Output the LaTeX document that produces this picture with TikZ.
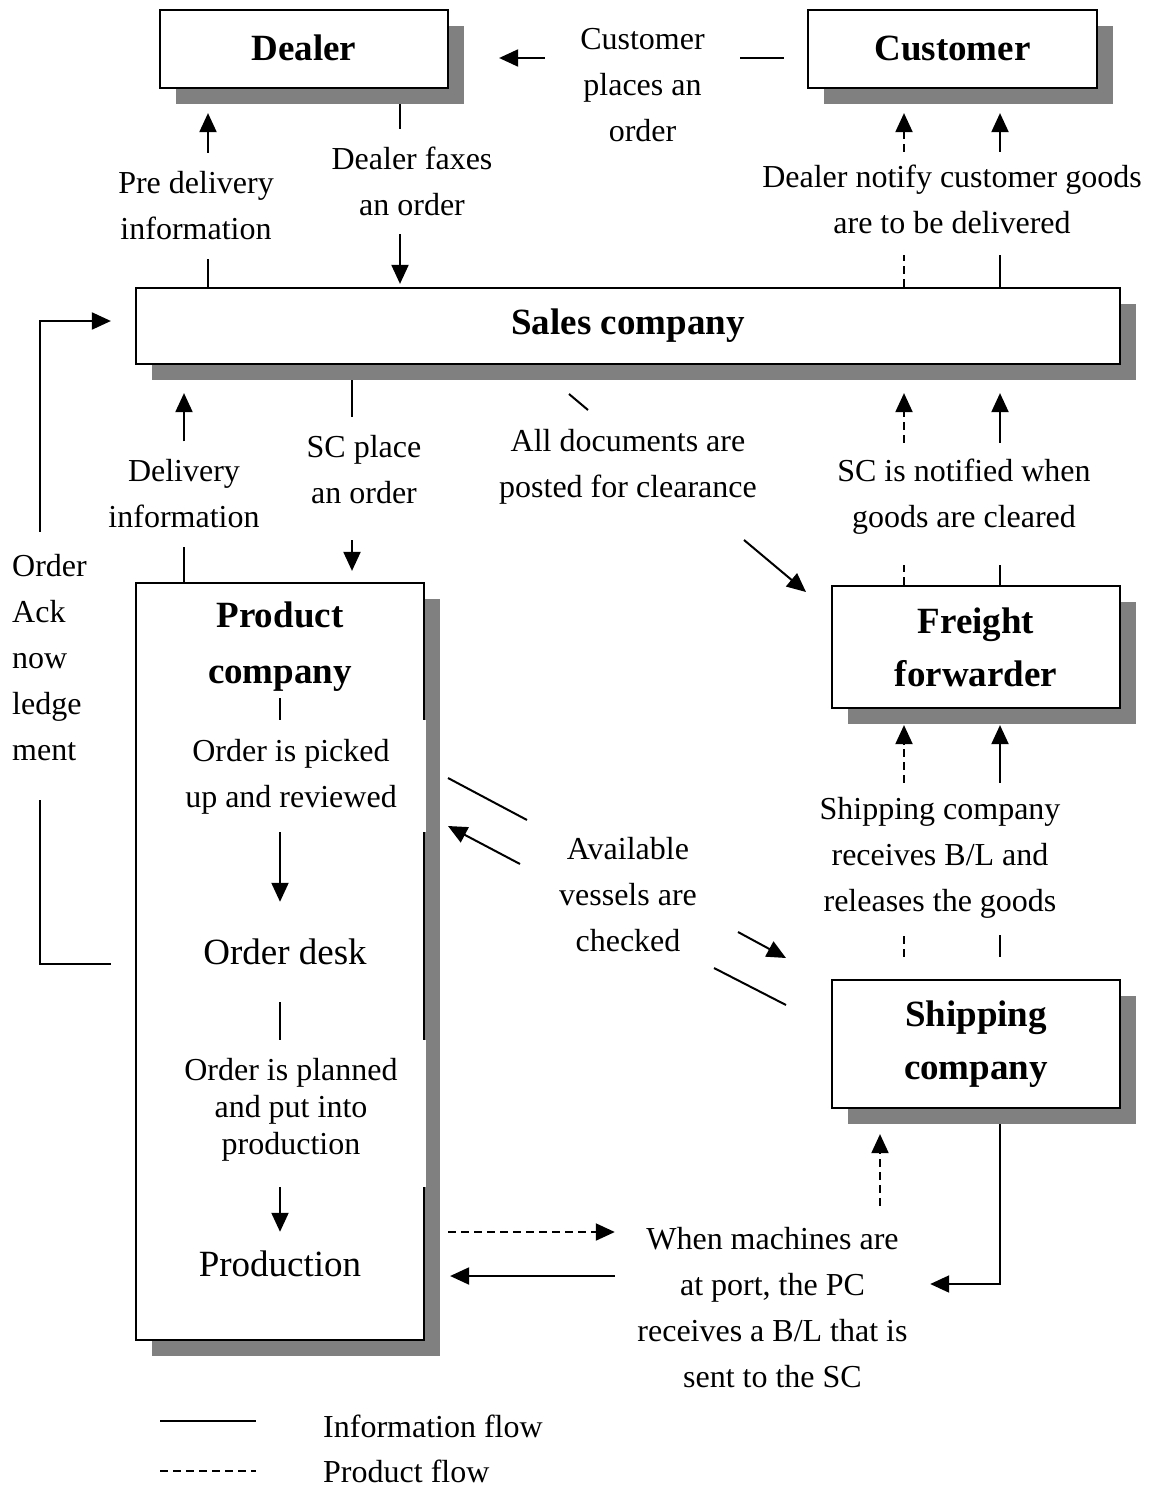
\documentclass[tikz,border=0pt]{standalone}
\usepackage{fontspec}
\setmainfont{Liberation Serif}
\usetikzlibrary{arrows.meta,shadows}
\pgfdeclarelayer{back}
\pgfsetlayers{back,main}
\definecolor{shade}{RGB}{128,128,128}
\tikzset{
  flow/.style={line width=2pt},
  infoline/.style={flow},
  prodline/.style={flow, dash pattern=on 8pt off 5pt},
  arr/.style={-{Triangle[length=19pt,width=17pt]}},
  box/.style={draw, line width=2.2pt, fill=white, inner sep=0pt, align=center,
    font=\fontsize{37}{53}\selectfont\bfseries,
    drop shadow={shadow xshift=16pt, shadow yshift=-16pt, fill=shade, opacity=1}},
  lab/.style={inner sep=0pt, align=center, font=\fontsize{32}{46}\selectfont},
  blab/.style={inner sep=0pt, align=center, font=\fontsize{37}{56}\selectfont\bfseries},
  patch/.style={fill=white, inner sep=0pt},
}
\begin{document}
\begin{tikzpicture}[x=1pt,y=-1pt]
\begin{pgfonlayer}{back}
  \fill[white] (0,0) rectangle (1149,1488);
\end{pgfonlayer}
\useasboundingbox (0,0) rectangle (1149,1488);

% reference lines for connector positions
\coordinate (yTop) at (0,58);
\coordinate (xFax) at (400,0);
\coordinate (xPre) at (208,0);
\coordinate (xDash) at (904,0);
\coordinate (xSolid) at (1000,0);
\coordinate (xDel) at (184,0);
\coordinate (xSCp) at (352,0);
\coordinate (xPc) at (280,0);
\coordinate (xAck) at (40,0);
\coordinate (yAckLow) at (0,964);
\coordinate (yAckHigh) at (0,321);
\coordinate (xPort) at (880,0);
\coordinate (yOut) at (0,1232);
\coordinate (yIn) at (0,1276);
\coordinate (yBL) at (0,1284);

% diagonal connector ends
\coordinate (docA) at (569,394);
\coordinate (docB) at (588,410);
\coordinate (docC) at (744,540);
\coordinate (docD) at (806,592);
\coordinate (vesA) at (448,778);
\coordinate (vesB) at (527,820);
\coordinate (vesC) at (738,932);
\coordinate (vesD) at (786,958);
\coordinate (vesE) at (786,1005);
\coordinate (vesF) at (714,968);
\coordinate (vesG) at (520,864);
\coordinate (vesH) at (448,826);

% legend samples
\coordinate (legA) at (160,1421);
\coordinate (legB) at (256,1421);
\coordinate (legC) at (160,1471);
\coordinate (legD) at (256,1471);

% parties
\node[box, minimum width=288pt, minimum height=78pt] (dealer) at (304,49) {\raisebox{2pt}{Dealer}};
\node[box, minimum width=289pt, minimum height=78pt] (cust) at (952.5,49) {\raisebox{2pt}{Customer}};
\node[box, minimum width=984pt, minimum height=76pt] (sales) at (628,326) {Sales company};
\node[box, minimum width=288pt, minimum height=757pt] (pc) at (280,961.5) {};
\node[box, minimum width=288pt, minimum height=122pt] (ff) at (976,647) {Freight\\forwarder};
\node[box, minimum width=288pt, minimum height=128pt] (sc) at (976,1044) {Shipping\\company};

% flow labels
\node[lab, minimum width=195pt, minimum height=130pt] (cpo) at (642.5,85) {Customer\\places an\\order};
\node[lab, minimum width=170pt, minimum height=105pt] (dfx) at (412,181.5) {Dealer faxes\\an order};
\node[lab, minimum width=170pt, minimum height=106pt] (pdi) at (196,206) {Pre delivery\\information};
\node[lab, minimum width=390pt, minimum height=94pt] (dnc) at (952,199) {Dealer notify customer goods\\are to be delivered};
\node[lab, minimum width=160pt, minimum height=105pt] (dinf) at (184,494) {Delivery\\information};
\node[lab, minimum width=130pt, minimum height=106pt] (scp) at (364,470) {SC place\\an order};
\node[lab] (adp) at (628,466.5) {All documents are\\posted for clearance};
\node[lab, minimum width=260pt, minimum height=107pt] (scn) at (964,496.5) {SC is notified when\\goods are cleared};
\node[lab, minimum width=250pt, minimum height=150pt] (srb) at (940,858) {Shipping company\\receives B/L and\\releases the goods};
\node[lab] (avc) at (628,895) {Available\\vessels are\\checked};
\node[lab, minimum width=315pt, minimum height=204pt] (wm) at (772.5,1308) {When machines are\\at port, the PC\\receives a B/L that is\\sent to the SC};
\node[lab, align=left, anchor=west, minimum height=252pt] (oak) at (12,658) {Order\\Ack\\now\\ledge\\ment};

% inside the product company
\node[blab, minimum height=102pt] (pctitle) at (280,647) {Product\\company};
\node[patch, minimum width=270pt, minimum height=112pt] (pipbox) at (291,776) {};
\node[lab] (pip) at (291,777) {Order is picked\\up and reviewed};
\node[lab, font=\fontsize{37}{44}\selectfont, minimum height=100pt] (odesk) at (285,952) {Order desk};
\node[patch, minimum width=270pt, minimum height=147pt] (plnbox) at (291,1113.5) {};
\node[lab, font=\fontsize{32}{37}\selectfont] (pln) at (291,1110) {Order is planned\\and put into\\production};
\node[lab, font=\fontsize{37}{44}\selectfont, minimum height=64pt] (prodn) at (280,1264) {Production};

\draw[infoline] (pctitle.south -| xPc) -- (pipbox.north -| xPc);
\draw[infoline, arr] (pipbox.south -| xPc) -- (odesk.north -| xPc);
\draw[infoline] (odesk.south -| xPc) -- (plnbox.north -| xPc);
\draw[infoline, arr] (plnbox.south -| xPc) -- (prodn.north -| xPc);

% legend
\node[lab, anchor=west] (legI) at (323,1426) {Information flow};
\node[lab, anchor=west] (legP) at (323,1471) {Product flow};
\draw[infoline] (legA) -- (legB);
\draw[prodline] (legC) -- (legD);

\begin{pgfonlayer}{back}
  % customer order
  \draw[infoline, shorten <=23pt] (cust.west |- yTop) -- (cpo.east |- yTop);
  \draw[infoline, arr, shorten >=50pt] (cpo.west |- yTop) -- (dealer.east |- yTop);
  % dealer fax
  \draw[infoline] (dealer.south -| xFax) -- (dfx.north -| xFax);
  \draw[infoline, arr, shorten >=3pt] (dfx.south -| xFax) -- (sales.north -| xFax);
  % pre delivery information
  \draw[infoline] (sales.north -| xPre) -- (pdi.south -| xPre);
  \draw[infoline, arr, shorten >=24pt] (pdi.north -| xPre) -- (dealer.south -| xPre);
  % customer notification
  \draw[prodline, shorten >=9pt] (sales.north -| xDash) -- (dnc.south -| xDash);
  \draw[prodline, arr, shorten >=24pt] (dnc.north -| xDash) -- (cust.south -| xDash);
  \draw[infoline, shorten >=9pt] (sales.north -| xSolid) -- (dnc.south -| xSolid);
  \draw[infoline, arr, shorten >=24pt] (dnc.north -| xSolid) -- (cust.south -| xSolid);
  % delivery information
  \draw[infoline] (pc.north -| xDel) -- (dinf.south -| xDel);
  \draw[infoline, arr, shorten >=28pt] (dinf.north -| xDel) -- (sales.south -| xDel);
  % SC order
  \draw[infoline] (sales.south -| xSCp) -- (scp.north -| xSCp);
  \draw[infoline, arr, shorten <=17pt, shorten >=11pt] (scp.south -| xSCp) -- (pc.north -| xSCp);
  % documents for clearance
  \draw[infoline] (docA) -- (docB);
  \draw[infoline, arr] (docC) -- (docD);
  % clearance notification
  \draw[prodline, shorten >=15pt] (ff.north -| xDash) -- (scn.south -| xDash);
  \draw[prodline, arr, shorten >=28pt] (scn.north -| xDash) -- (sales.south -| xDash);
  \draw[infoline, shorten >=15pt] (ff.north -| xSolid) -- (scn.south -| xSolid);
  \draw[infoline, arr, shorten >=28pt] (scn.north -| xSolid) -- (sales.south -| xSolid);
  % release of goods
  \draw[prodline, shorten <=22pt, shorten >=2pt] (sc.north -| xDash) -- (srb.south -| xDash);
  \draw[prodline, arr, shorten >=16pt] (srb.north -| xDash) -- (ff.south -| xDash);
  \draw[infoline, shorten <=22pt, shorten >=2pt] (sc.north -| xSolid) -- (srb.south -| xSolid);
  \draw[infoline, arr, shorten >=16pt] (srb.north -| xSolid) -- (ff.south -| xSolid);
  % vessel check
  \draw[infoline] (vesA) -- (vesB);
  \draw[infoline, arr] (vesC) -- (vesD);
  \draw[infoline] (vesE) -- (vesF);
  \draw[infoline, arr] (vesG) -- (vesH);
  % machines at port
  \draw[prodline, arr, shorten <=23pt] (pc.east |- yOut) -- (wm.west |- yOut);
  \draw[infoline, arr, shorten >=25pt] (wm.west |- yIn) -- (pc.east |- yIn);
  \draw[prodline, arr, shorten >=25pt] (wm.north -| xPort) -- (sc.south -| xPort);
  \draw[infoline, arr] (sc.south -| xSolid) |- (wm.east |- yBL);
  % order acknowledgement
  \draw[infoline, shorten <=24pt, shorten >=16pt] (pc.west |- yAckLow) -| (oak.south -| xAck);
  \draw[infoline, arr, shorten >=24pt] (oak.north -| xAck) |- (sales.west |- yAckHigh);
\end{pgfonlayer}
\end{tikzpicture}
\end{document}
